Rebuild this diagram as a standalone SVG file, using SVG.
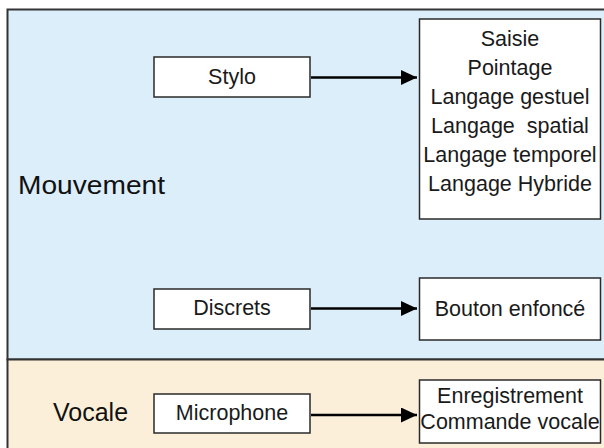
<svg xmlns="http://www.w3.org/2000/svg" width="604" height="448" viewBox="0 0 604 448">
  <defs>
    <style>
      .box { fill: #ffffff; stroke: #2a2a2a; stroke-width: 1.5; }
      .lbl { font-family: "Liberation Sans", Arial, sans-serif; font-size: 21.5px; fill: #1a1a1a; text-anchor: middle; }
      .sec { font-family: "Liberation Sans", Arial, sans-serif; font-size: 25px; fill: #111111; }
      .conn { stroke: #000000; stroke-width: 2.6; fill: none; marker-end: url(#arrow); }
    </style>
    <marker id="arrow" markerUnits="userSpaceOnUse" viewBox="0 0 16 15" refX="16" refY="7.5" markerWidth="16" markerHeight="15" orient="auto">
      <path d="M0,0 L16,7.5 L0,15 z" fill="#000000"/>
    </marker>
  </defs>

  <rect x="0" y="0" width="604" height="448" fill="#ffffff"/>

  <g id="section-mouvement">
    <rect x="7.5" y="9.5" width="620" height="350" fill="#ddeefb" stroke="#333333" stroke-width="2"/>
    <text class="sec" x="18" y="194" textLength="147" lengthAdjust="spacingAndGlyphs">Mouvement</text>
  </g>
  <g id="section-vocale">
    <rect x="7.5" y="359.5" width="620" height="100" fill="#fcefd9" stroke="#333333" stroke-width="2"/>
    <text class="sec" x="53" y="421">Vocale</text>
  </g>

  <g id="connectors">
    <line class="conn" x1="311" y1="77.5" x2="417" y2="77.5"/>
    <line class="conn" x1="311" y1="308.5" x2="417" y2="308.5"/>
    <line class="conn" x1="311" y1="415" x2="417" y2="415"/>
  </g>

  <g id="node-stylo">
    <rect class="box" x="154" y="57" width="156" height="40"/>
    <text class="lbl" x="232" y="84">Stylo</text>
  </g>
  <g id="node-modes">
    <rect class="box" x="419.5" y="19" width="181" height="200"/>
    <text class="lbl" x="510" y="46">Saisie</text>
    <text class="lbl" x="510" y="75">Pointage</text>
    <text class="lbl" x="510" y="104">Langage gestuel</text>
    <text class="lbl" x="510" y="133" xml:space="preserve">Langage  spatial</text>
    <text class="lbl" x="510" y="162">Langage temporel</text>
    <text class="lbl" x="510" y="191">Langage Hybride</text>
  </g>
  <g id="node-discrets">
    <rect class="box" x="154" y="289" width="156" height="40"/>
    <text class="lbl" x="232" y="315">Discrets</text>
  </g>
  <g id="node-bouton">
    <rect class="box" x="419.5" y="278" width="181" height="62"/>
    <text class="lbl" x="510" y="316">Bouton enfoncé</text>
  </g>
  <g id="node-microphone">
    <rect class="box" x="154" y="394" width="156" height="39"/>
    <text class="lbl" x="232" y="420">Microphone</text>
  </g>
  <g id="node-vocal">
    <rect class="box" x="419.5" y="380" width="181" height="63"/>
    <text class="lbl" x="510" y="403">Enregistrement</text>
    <text class="lbl" x="510" y="429">Commande vocale</text>
  </g>
</svg>
